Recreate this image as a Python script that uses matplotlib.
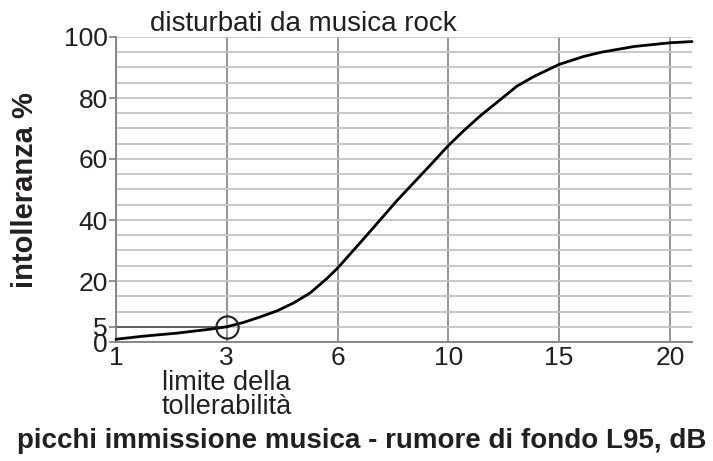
import numpy as np
import matplotlib.pyplot as plt

plt.rcParams['font.family'] = ['Liberation Sans', 'DejaVu Sans']

# tick positions on x (dB values, equally spaced on the chart)
x_ticks = [1, 3, 6, 10, 15, 20]
y_ticks = [0, 5, 20, 40, 60, 80, 100]

# curve: background noise dB -> intolerance %
curve_db = [1.0, 1.49, 2.10, 2.70, 3.0, 3.45, 3.90, 4.36, 4.81, 5.26, 5.71, 6.0,
            6.96, 8.16, 9.37, 10.0, 10.7, 11.45, 12.2, 13.1, 13.85, 15.0,
            16.1, 16.9, 18.4, 20.0, 21.0]
curve_pct = [0.9, 1.9, 2.9, 4.2, 5.0, 6.4, 8.2, 10.2, 12.8, 16.1, 20.8, 24.2,
             34.0, 46.5, 58.2, 64.4, 69.3, 74.2, 78.6, 83.9, 87.0, 91.0,
             93.6, 95.0, 96.9, 98.1, 98.5]

# tolerance limit point
limit_db = 3
limit_pct = 5

txt = '#231f20'

# map dB onto equally spaced category positions
pos_db = [1, 3, 6, 10, 15, 20, 25]
pos_i = [0, 1, 2, 3, 4, 5, 6]
def fwd(x):
    return np.interp(x, pos_db, pos_i)
def inv(x):
    return np.interp(x, pos_i, pos_db)

fig = plt.figure(figsize=(7.13, 4.61), dpi=100)
ax = fig.add_axes([116/713, 1 - 342/461, 576/713, 305/461])
ax.set_xscale('function', functions=(fwd, inv))
ax.set_xlim(1, 21.0)
ax.set_ylim(0, 100)

# grid
ax.set_yticks(y_ticks)
ax.set_yticks(range(0, 101, 5), minor=True)
ax.set_xticks(x_ticks)
ax.grid(True, axis='y', which='both', color='#c4c4c4', lw=1.3)
ax.grid(True, axis='x', which='major', color='#8c8c8c', lw=1.3)
ax.tick_params(axis='y', which='minor', length=0)
ax.tick_params(axis='y', which='major', length=5, width=1.2, color='#808080',
               labelsize=19, labelcolor=txt, pad=1)
ax.tick_params(axis='x', length=0, labelsize=19, labelcolor=txt, pad=3)
ax.set_xticklabels([str(v) for v in x_ticks])
ax.set_yticklabels([str(v) for v in y_ticks])

for s in ['top', 'right']:
    ax.spines[s].set_visible(False)
for s in ['left', 'bottom']:
    ax.spines[s].set_color('#808080')
    ax.spines[s].set_linewidth(1.3)

# 5% reference line up to the limit
ax.plot([1, limit_db], [limit_pct, limit_pct], color='#555555', lw=1.3, zorder=2)

# curve
ax.plot(curve_db, curve_pct, color='black', lw=2.0, solid_capstyle='round',
        solid_joinstyle='round', zorder=3, clip_on=False)
ax.plot([limit_db], [limit_pct], marker='o', ms=16, mfc='none', mec='#231f20', mew=1.5, zorder=4)

fig.text(150/713, 1 - 31/461, 'disturbati da musica rock', fontsize=20, color=txt, va='baseline')
ax.text(limit_db, -9.3, 'limite della\ntollerabilità', fontsize=19.5, color=txt,
        ha='center', va='top', linespacing=0.88)
fig.text(25/713, 1 - 190/461, 'intolleranza %', fontsize=21, fontweight='bold', color=txt,
         rotation=90, ha='center', va='center')
fig.text(362/713, 1 - 441/461, 'picchi immissione musica - rumore di fondo L95, dB',
         fontsize=20, fontweight='bold', color=txt, ha='center', va='center')

fig.savefig('out.png', dpi=100)
